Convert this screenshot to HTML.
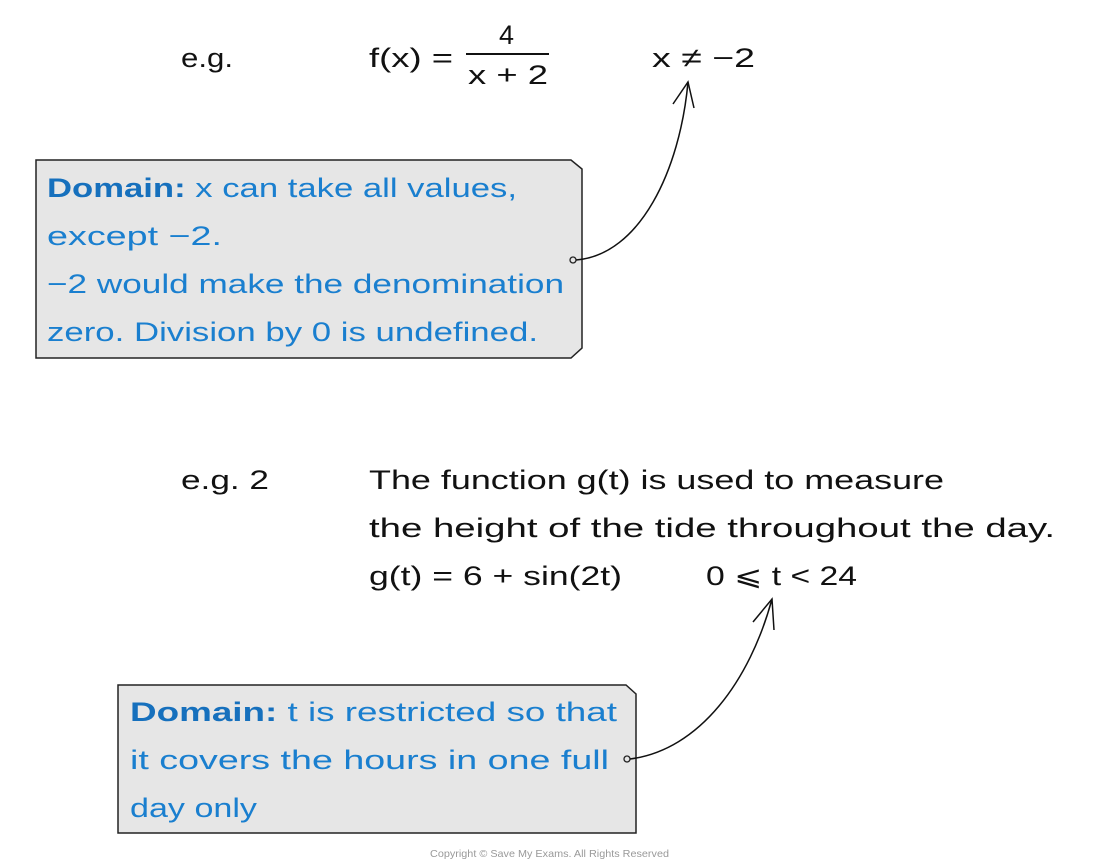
<!DOCTYPE html>
<html><head><meta charset="utf-8"><style>
html,body{margin:0;padding:0;background:#fff;}
svg{display:block;}
text{font-family:"Liberation Sans",sans-serif;font-size:27px;}
.k{fill:#111;}
.b{fill:#1a7fcf;}
.d{font-weight:bold;fill:#1670bd;}
</style></head><body>
<svg width="1100" height="866" viewBox="0 0 1100 866" xmlns="http://www.w3.org/2000/svg">
<text x="181" y="67" class="k" textLength="52" lengthAdjust="spacingAndGlyphs">e.g.</text>
<text x="369" y="67" class="k" textLength="84" lengthAdjust="spacingAndGlyphs">f(x) =</text>
<text x="499" y="44" class="k">4</text>
<line x1="466" y1="54" x2="549" y2="54" stroke="#111" stroke-width="2"/>
<text x="468" y="84" class="k" textLength="80" lengthAdjust="spacingAndGlyphs">x + 2</text>
<text x="652" y="67" class="k" textLength="103" lengthAdjust="spacingAndGlyphs">x ≠ −2</text>

<path d="M36 160 L571 160 L582 169 L582 348 L571 358 L36 358 Z" fill="#e6e6e6" stroke="#222" stroke-width="1.5"/>
<text x="47" y="197" class="b" textLength="470" lengthAdjust="spacingAndGlyphs"><tspan class="d">Domain:</tspan> x can take all values,</text>
<text x="47" y="245" class="b" textLength="175" lengthAdjust="spacingAndGlyphs">except −2.</text>
<text x="47" y="293" class="b" textLength="517" lengthAdjust="spacingAndGlyphs">−2 would make the denomination</text>
<text x="47" y="341" class="b" textLength="491" lengthAdjust="spacingAndGlyphs">zero. Division by 0 is undefined.</text>
<circle cx="573" cy="260" r="3" fill="none" stroke="#222" stroke-width="1.3"/>
<path d="M576 260 C640 255 680 170 688 82" fill="none" stroke="#111" stroke-width="1.5"/>
<path d="M673 104 L688 82 L694 108" fill="none" stroke="#111" stroke-width="1.5"/>

<text x="181" y="489" class="k" textLength="88" lengthAdjust="spacingAndGlyphs">e.g. 2</text>
<text x="369" y="489" class="k" textLength="575" lengthAdjust="spacingAndGlyphs">The function g(t) is used to measure</text>
<text x="369" y="537" class="k" textLength="686" lengthAdjust="spacingAndGlyphs">the height of the tide throughout the day.</text>
<text x="369" y="585" class="k" textLength="253" lengthAdjust="spacingAndGlyphs">g(t) = 6 + sin(2t)</text>
<text x="706" y="585" class="k" textLength="151" lengthAdjust="spacingAndGlyphs">0 ⩽ t &lt; 24</text>

<path d="M118 685 L626 685 L636 694 L636 833 L118 833 Z" fill="#e6e6e6" stroke="#222" stroke-width="1.5"/>
<text x="130" y="721" class="b" textLength="487" lengthAdjust="spacingAndGlyphs"><tspan class="d">Domain:</tspan> t is restricted so that</text>
<text x="130" y="769" class="b" textLength="479" lengthAdjust="spacingAndGlyphs">it covers the hours in one full</text>
<text x="130" y="817" class="b" textLength="127" lengthAdjust="spacingAndGlyphs">day only</text>
<circle cx="627" cy="759" r="3" fill="none" stroke="#222" stroke-width="1.3"/>
<path d="M630 759 C700 750 750 680 772 599" fill="none" stroke="#111" stroke-width="1.5"/>
<path d="M753 622 L772 599 L774 630" fill="none" stroke="#111" stroke-width="1.5"/>

<text x="430" y="857" style="font-size:10.5px;fill:#999" textLength="239" lengthAdjust="spacingAndGlyphs">Copyright © Save My Exams. All Rights Reserved</text>
</svg>
</body></html>
